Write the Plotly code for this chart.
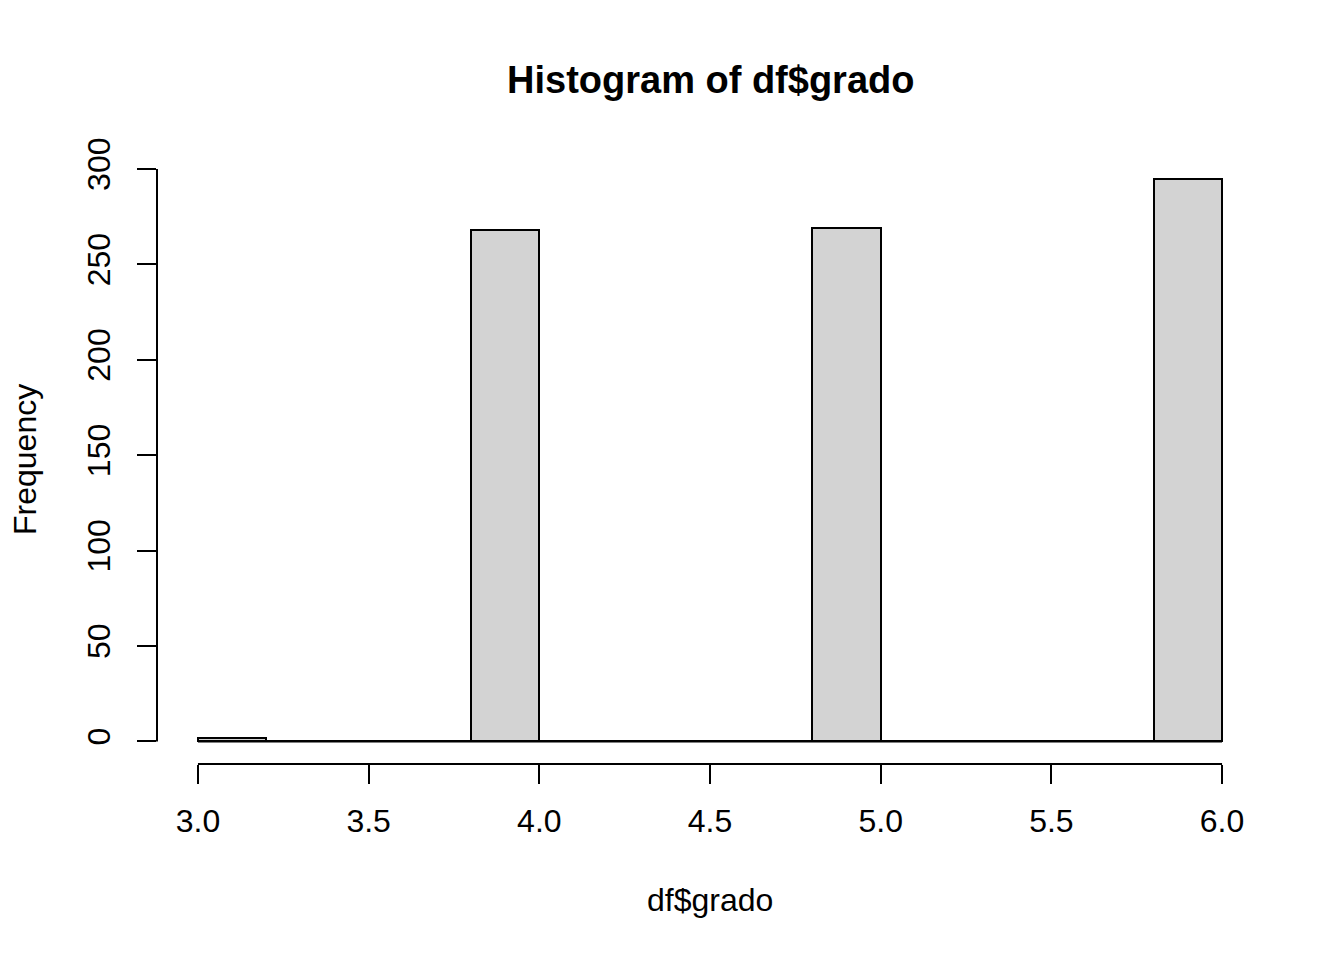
import plotly.graph_objects as go

# histogram of df$grado, breaks every 0.2
bin_edges = [3.0, 3.2, 3.4, 3.6, 3.8, 4.0, 4.2, 4.4, 4.6, 4.8, 5.0, 5.2, 5.4, 5.6, 5.8, 6.0]
counts = [2, 0, 0, 0, 268, 0, 0, 0, 0, 269, 0, 0, 0, 0, 295]
x_ticks = [3.0, 3.5, 4.0, 4.5, 5.0, 5.5, 6.0]
y_ticks = [0, 50, 100, 150, 200, 250, 300]

FONT = "Liberation Sans, Arial, sans-serif"


def render_fig():
    mids = [(a + b) / 2 for a, b in zip(bin_edges[:-1], bin_edges[1:])]
    widths = [b - a for a, b in zip(bin_edges[:-1], bin_edges[1:])]

    fig = go.Figure()
    # R draws the empty bins as flat outlines on the baseline
    fig.add_trace(
        go.Scatter(
            x=[bin_edges[0], bin_edges[-1]],
            y=[0, 0],
            mode="lines",
            line=dict(color="black", width=2),
            hoverinfo="skip",
        )
    )
    fig.add_trace(
        go.Bar(
            x=mids,
            y=counts,
            width=widths,
            marker=dict(color="#d3d3d3", line=dict(color="black", width=2)),
        )
    )

    pad_x = 0.04 * (bin_edges[-1] - bin_edges[0])
    ymax = max(counts)
    # the page body has an 8px margin, so the margins are trimmed by that
    fig.update_layout(
        width=1344,
        height=960,
        paper_bgcolor="white",
        plot_bgcolor="white",
        showlegend=False,
        bargap=0,
        margin=dict(l=149, r=89, t=148, b=204),
        font=dict(family=FONT, size=32, color="black"),
    )
    fig.update_xaxes(
        range=[bin_edges[0] - pad_x, bin_edges[-1] + pad_x],
        tickvals=x_ticks,
        tickformat=".1f",
        ticks="outside",
        ticklen=19,
        tickwidth=2,
        tickcolor="black",
        ticklabelstandoff=10,
        showgrid=False,
        zeroline=False,
        showline=False,
    )
    fig.update_yaxes(
        range=[-0.04 * ymax, 1.04 * ymax],
        tickvals=y_ticks,
        tickangle=-90,
        ticks="outside",
        ticklen=19,
        tickwidth=2,
        tickcolor="black",
        ticklabelstandoff=14,
        showgrid=False,
        zeroline=False,
        showline=False,
    )
    # R-style axis lines that only span the tick range
    fig.add_shape(type="line", xref="x", yref="paper", x0=x_ticks[0], x1=x_ticks[-1],
                  y0=0, y1=0, line=dict(color="black", width=2))
    fig.add_shape(type="line", xref="paper", yref="y", x0=0, x1=0,
                  y0=y_ticks[0], y1=y_ticks[-1], line=dict(color="black", width=2))

    fig.add_annotation(text="<b>Histogram of df$grado</b>", xref="paper", yref="paper",
                       x=0.5, y=1, yanchor="middle", yshift=76, showarrow=False,
                       font=dict(size=38, family=FONT))
    fig.add_annotation(text="df$grado", xref="paper", yref="paper",
                       x=0.5, y=0, yanchor="middle", yshift=-136, showarrow=False)
    fig.add_annotation(text="Frequency", xref="paper", yref="paper",
                       x=0, y=0.5, xanchor="center", yanchor="middle", xshift=-132,
                       textangle=-90, showarrow=False)
    return fig


fig = render_fig()
fig.write_html("out.html")
